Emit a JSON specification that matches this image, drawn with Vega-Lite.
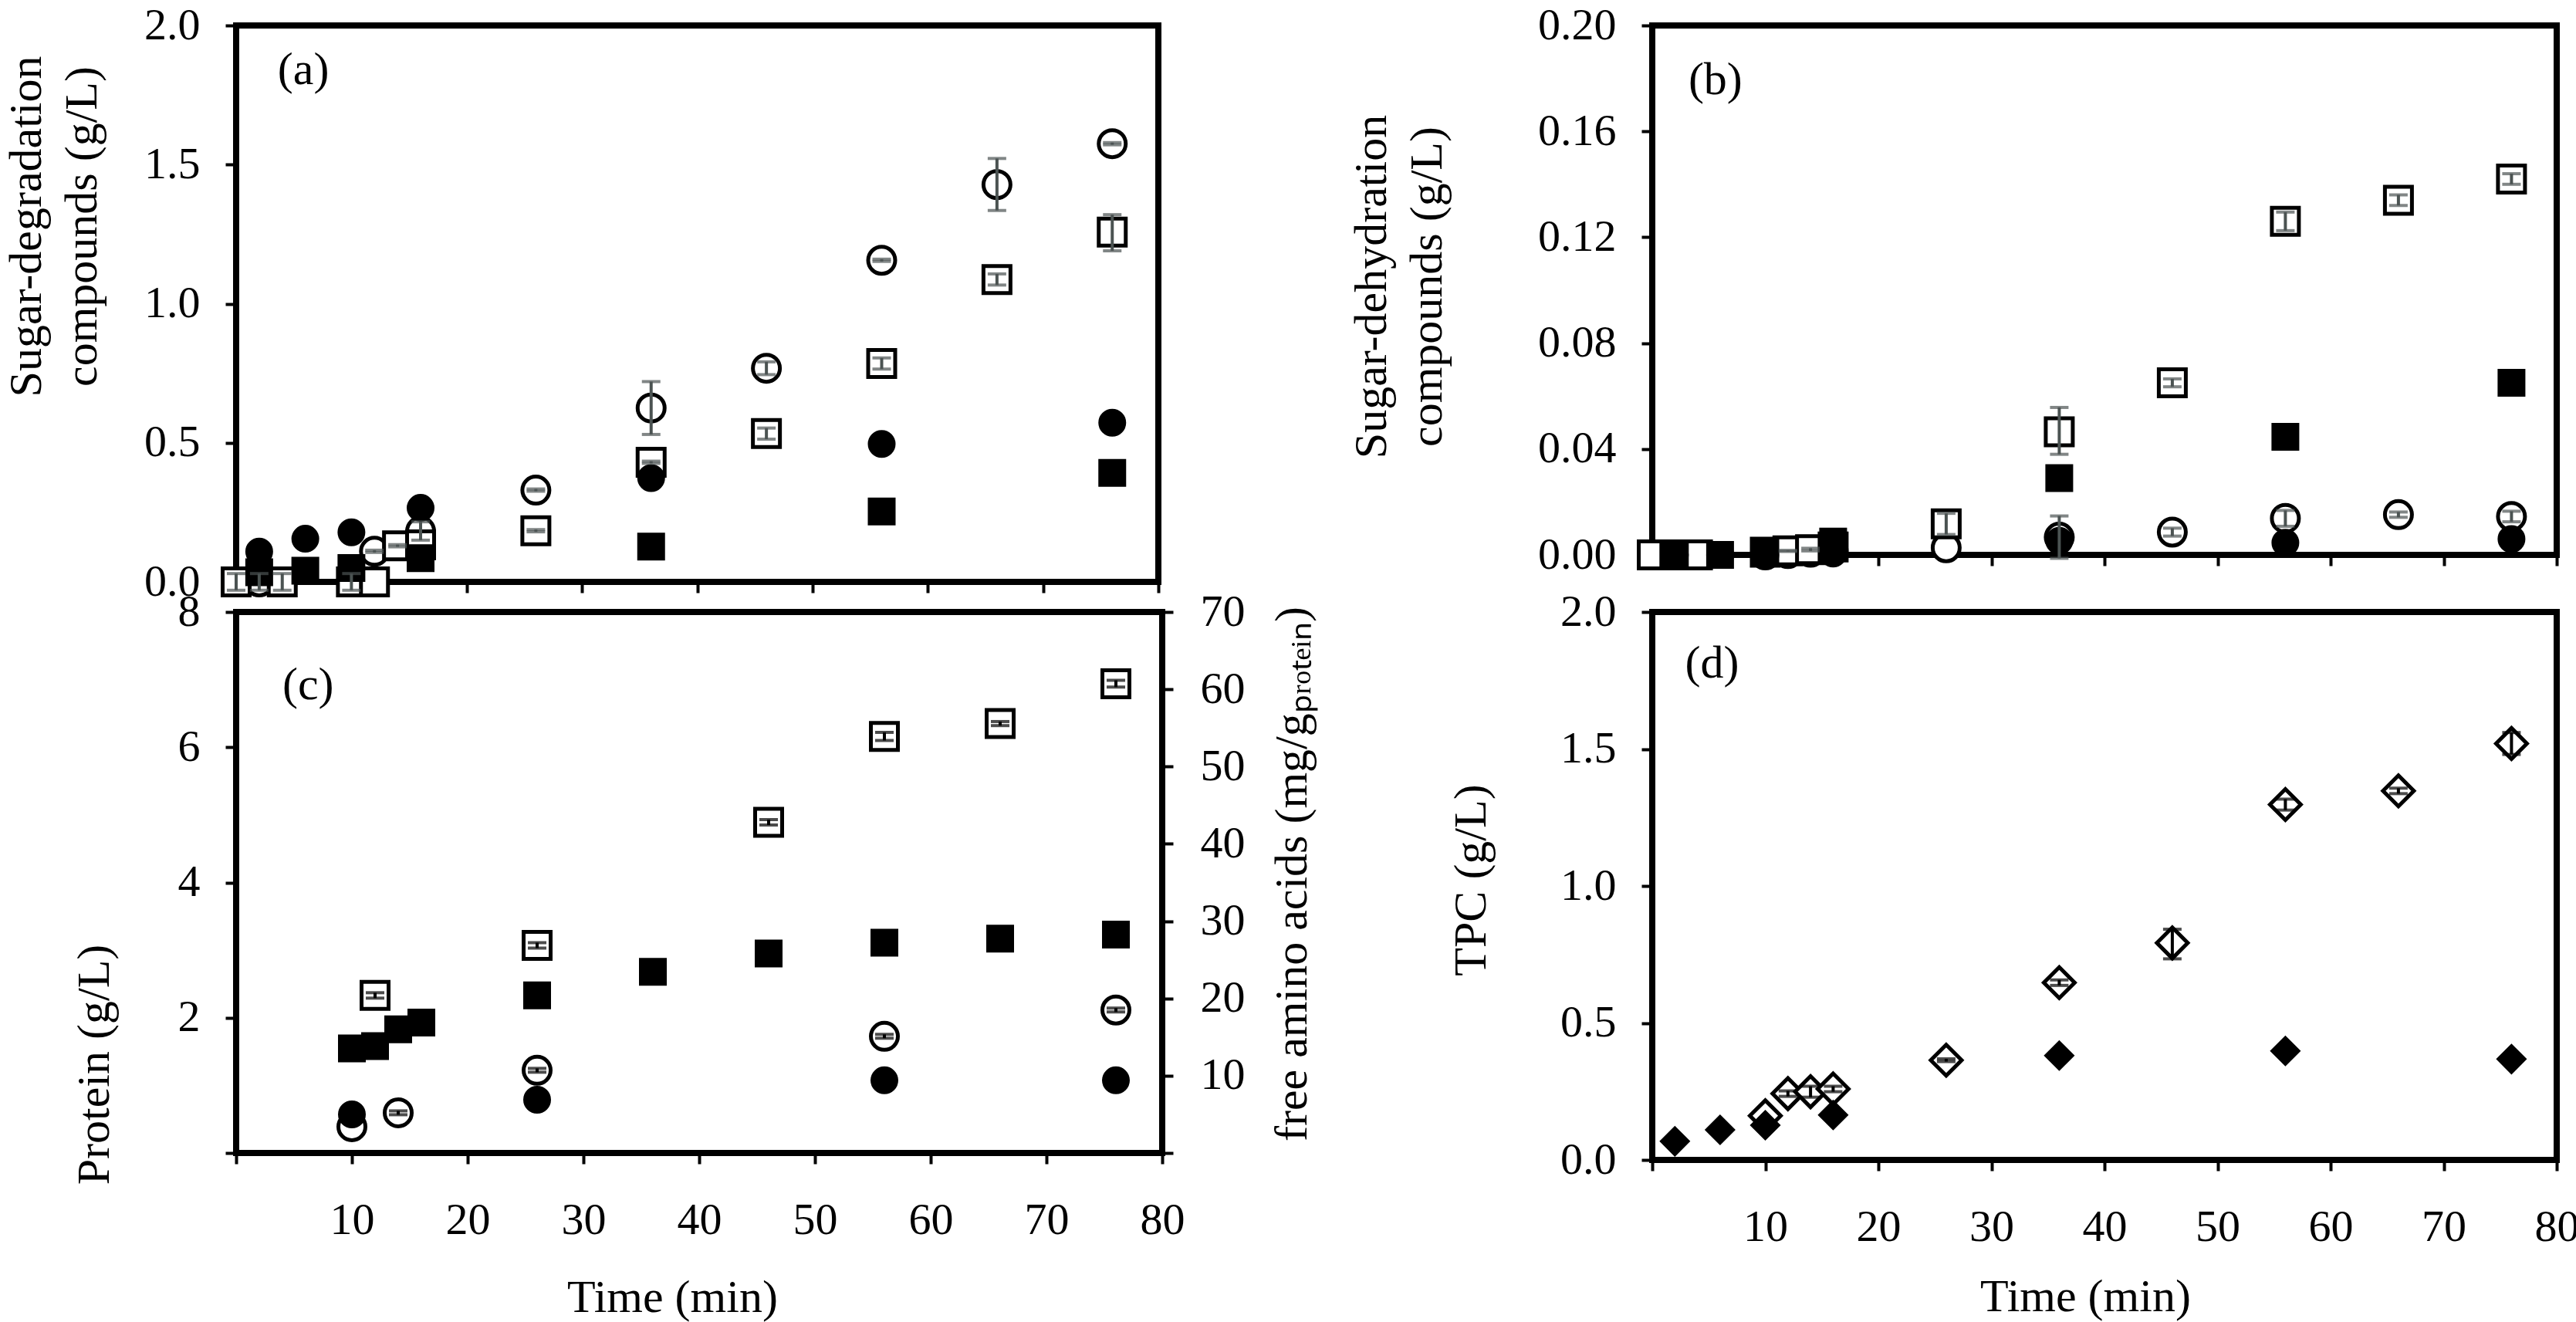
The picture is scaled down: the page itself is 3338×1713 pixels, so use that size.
{
"$schema":"https://vega.github.io/schema/vega-lite/v6.json",
"background":"white",
"padding":{"left":0,"top":0,"right":0,"bottom":0},
"bounds":"flush",
"columns":2,
"spacing":{"row":39,"column":635},
"resolve":{"scale":{"x":"independent","y":"independent","shape":"independent"},"axis":{"x":"independent","y":"independent"}},
"config":{"font":"Liberation Serif","view":{"stroke":"black","strokeWidth":8},
"axis":{"domain":false,"grid":false,"ticks":true,"tickColor":"black","tickWidth":4,"tickSize":14,"labelFont":"Liberation Serif","labelFontSize":58,"labelColor":"black","titleFont":"Liberation Serif","titleFontSize":60,"titleFontWeight":"normal","titleColor":"black","labelFlush":false,"labelOverlap":false,"labelBound":false},
"axisY":{"labelPadding":33},"axisX":{"labelPadding":44,"titlePadding":40}},
"datasets":{
"pts":[
{"panel":"a","marker":"oc","t":0,"v":0,"lo":-0.03,"hi":0.03},
{"panel":"a","marker":"oc","t":2,"v":0,"lo":-0.03,"hi":0.03},
{"panel":"a","marker":"oc","t":4,"v":0,"lo":-0.03,"hi":0.03},
{"panel":"a","marker":"oc","t":10,"v":0,"lo":-0.03,"hi":0.03},
{"panel":"a","marker":"oc","t":12,"v":0.11,"lo":0.106,"hi":0.114},
{"panel":"a","marker":"oc","t":16,"v":0.183,"lo":0.15,"hi":0.216},
{"panel":"a","marker":"oc","t":26,"v":0.33,"lo":0.326,"hi":0.334},
{"panel":"a","marker":"oc","t":36,"v":0.625,"lo":0.53,"hi":0.72},
{"panel":"a","marker":"oc","t":46,"v":0.768,"lo":0.745,"hi":0.791},
{"panel":"a","marker":"oc","t":56,"v":1.156,"lo":1.152,"hi":1.16},
{"panel":"a","marker":"oc","t":66,"v":1.428,"lo":1.335,"hi":1.522},
{"panel":"a","marker":"oc","t":76,"v":1.575,"lo":1.571,"hi":1.579},
{"panel":"a","marker":"os","t":0,"v":0},
{"panel":"a","marker":"os","t":4,"v":0},
{"panel":"a","marker":"os","t":10,"v":0},
{"panel":"a","marker":"os","t":12,"v":0},
{"panel":"a","marker":"os","t":14,"v":0.13,"lo":0.126,"hi":0.134},
{"panel":"a","marker":"os","t":16,"v":0.133},
{"panel":"a","marker":"os","t":26,"v":0.184,"lo":0.18,"hi":0.188},
{"panel":"a","marker":"os","t":36,"v":0.43,"lo":0.426,"hi":0.434},
{"panel":"a","marker":"os","t":46,"v":0.533,"lo":0.513,"hi":0.553},
{"panel":"a","marker":"os","t":56,"v":0.785,"lo":0.765,"hi":0.805},
{"panel":"a","marker":"os","t":66,"v":1.087,"lo":1.067,"hi":1.107},
{"panel":"a","marker":"os","t":76,"v":1.257,"lo":1.19,"hi":1.32},
{"panel":"a","marker":"fc","t":2,"v":0.109},
{"panel":"a","marker":"fc","t":6,"v":0.155},
{"panel":"a","marker":"fc","t":10,"v":0.178},
{"panel":"a","marker":"fc","t":16,"v":0.266},
{"panel":"a","marker":"fc","t":36,"v":0.373},
{"panel":"a","marker":"fc","t":56,"v":0.496},
{"panel":"a","marker":"fc","t":76,"v":0.572},
{"panel":"a","marker":"fs","t":2,"v":0.035},
{"panel":"a","marker":"fs","t":6,"v":0.04},
{"panel":"a","marker":"fs","t":10,"v":0.05},
{"panel":"a","marker":"fs","t":16,"v":0.085},
{"panel":"a","marker":"fs","t":36,"v":0.127},
{"panel":"a","marker":"fs","t":56,"v":0.253},
{"panel":"a","marker":"fs","t":76,"v":0.392},
{"panel":"b","marker":"oc","t":0,"v":0},
{"panel":"b","marker":"oc","t":2,"v":0},
{"panel":"b","marker":"oc","t":4,"v":0},
{"panel":"b","marker":"oc","t":10,"v":0},
{"panel":"b","marker":"oc","t":12,"v":0.0005},
{"panel":"b","marker":"oc","t":14,"v":0.001},
{"panel":"b","marker":"oc","t":16,"v":0.0015},
{"panel":"b","marker":"oc","t":26,"v":0.0027},
{"panel":"b","marker":"oc","t":36,"v":0.0067,"lo":-0.0013,"hi":0.0147},
{"panel":"b","marker":"oc","t":46,"v":0.0086,"lo":0.0071,"hi":0.0101},
{"panel":"b","marker":"oc","t":56,"v":0.0138,"lo":0.0108,"hi":0.0168},
{"panel":"b","marker":"oc","t":66,"v":0.0152,"lo":0.0142,"hi":0.0162},
{"panel":"b","marker":"oc","t":76,"v":0.0145,"lo":0.0125,"hi":0.0165},
{"panel":"b","marker":"os","t":0,"v":0},
{"panel":"b","marker":"os","t":2,"v":0},
{"panel":"b","marker":"os","t":4,"v":0},
{"panel":"b","marker":"os","t":10,"v":0.001},
{"panel":"b","marker":"os","t":12,"v":0.0015,"lo":0.0013,"hi":0.0017},
{"panel":"b","marker":"os","t":14,"v":0.002,"lo":0.0015,"hi":0.0025},
{"panel":"b","marker":"os","t":16,"v":0.003},
{"panel":"b","marker":"os","t":26,"v":0.0117,"lo":0.0077,"hi":0.0157},
{"panel":"b","marker":"os","t":36,"v":0.0465,"lo":0.038,"hi":0.0557},
{"panel":"b","marker":"os","t":46,"v":0.065,"lo":0.0635,"hi":0.0665},
{"panel":"b","marker":"os","t":56,"v":0.126,"lo":0.1225,"hi":0.1295},
{"panel":"b","marker":"os","t":66,"v":0.134,"lo":0.132,"hi":0.136},
{"panel":"b","marker":"os","t":76,"v":0.142,"lo":0.14,"hi":0.144},
{"panel":"b","marker":"fc","t":2,"v":0},
{"panel":"b","marker":"fc","t":6,"v":0},
{"panel":"b","marker":"fc","t":10,"v":0},
{"panel":"b","marker":"fc","t":16,"v":0.0005},
{"panel":"b","marker":"fc","t":36,"v":0.0053},
{"panel":"b","marker":"fc","t":56,"v":0.0046},
{"panel":"b","marker":"fc","t":76,"v":0.006},
{"panel":"b","marker":"fs","t":2,"v":0},
{"panel":"b","marker":"fs","t":6,"v":0},
{"panel":"b","marker":"fs","t":10,"v":0.001},
{"panel":"b","marker":"fs","t":16,"v":0.005},
{"panel":"b","marker":"fs","t":36,"v":0.029},
{"panel":"b","marker":"fs","t":56,"v":0.0446},
{"panel":"b","marker":"fs","t":76,"v":0.065},
{"panel":"c","marker":"os","t":12,"v":2.33,"lo":2.29,"hi":2.37},
{"panel":"c","marker":"os","t":26,"v":3.07,"lo":3.03,"hi":3.11},
{"panel":"c","marker":"os","t":46,"v":4.89,"lo":4.85,"hi":4.93},
{"panel":"c","marker":"os","t":56,"v":6.16,"lo":6.1,"hi":6.22},
{"panel":"c","marker":"os","t":66,"v":6.35,"lo":6.32,"hi":6.38},
{"panel":"c","marker":"os","t":76,"v":6.94,"lo":6.89,"hi":6.99},
{"panel":"c","marker":"fs","t":10,"v":1.545},
{"panel":"c","marker":"fs","t":12,"v":1.58},
{"panel":"c","marker":"fs","t":14,"v":1.83},
{"panel":"c","marker":"fs","t":16,"v":1.93},
{"panel":"c","marker":"fs","t":26,"v":2.33},
{"panel":"c","marker":"fs","t":36,"v":2.68},
{"panel":"c","marker":"fs","t":46,"v":2.95},
{"panel":"c","marker":"fs","t":56,"v":3.11},
{"panel":"c","marker":"fs","t":66,"v":3.17},
{"panel":"c","marker":"fs","t":76,"v":3.23},
{"panel":"c","marker":"oc","t":10,"v":3.4},
{"panel":"c","marker":"oc","t":14,"v":5.2,"lo":4.95,"hi":5.45},
{"panel":"c","marker":"oc","t":26,"v":10.7,"lo":10.45,"hi":10.95},
{"panel":"c","marker":"oc","t":56,"v":15.1,"lo":14.85,"hi":15.35},
{"panel":"c","marker":"oc","t":76,"v":18.5,"lo":18.25,"hi":18.75},
{"panel":"c","marker":"fc","t":10,"v":5.0},
{"panel":"c","marker":"fc","t":26,"v":6.9},
{"panel":"c","marker":"fc","t":56,"v":9.4},
{"panel":"c","marker":"fc","t":76,"v":9.4},
{"panel":"d","marker":"od","t":10,"v":0.161},
{"panel":"d","marker":"od","t":12,"v":0.242,"lo":0.232,"hi":0.252},
{"panel":"d","marker":"od","t":14,"v":0.249,"lo":0.229,"hi":0.269},
{"panel":"d","marker":"od","t":16,"v":0.259,"lo":0.249,"hi":0.269},
{"panel":"d","marker":"od","t":26,"v":0.364,"lo":0.359,"hi":0.369},
{"panel":"d","marker":"od","t":36,"v":0.647,"lo":0.637,"hi":0.657},
{"panel":"d","marker":"od","t":46,"v":0.792,"lo":0.734,"hi":0.842},
{"panel":"d","marker":"od","t":56,"v":1.297,"lo":1.277,"hi":1.317},
{"panel":"d","marker":"od","t":66,"v":1.347,"lo":1.337,"hi":1.357},
{"panel":"d","marker":"od","t":76,"v":1.52,"lo":1.48,"hi":1.56},
{"panel":"d","marker":"fd","t":2,"v":0.068},
{"panel":"d","marker":"fd","t":6,"v":0.11},
{"panel":"d","marker":"fd","t":10,"v":0.127},
{"panel":"d","marker":"fd","t":16,"v":0.164},
{"panel":"d","marker":"fd","t":36,"v":0.381},
{"panel":"d","marker":"fd","t":56,"v":0.398},
{"panel":"d","marker":"fd","t":76,"v":0.368}
],
"lab":[
{"panel":"a","label":"(a)","t":3.6,"v":1.79},
{"panel":"b","label":"(b)","t":3.2,"v":0.174},
{"panel":"c","label":"(c)","t":4.0,"v":6.71},
{"panel":"d","label":"(d)","t":2.9,"v":1.76}
]
},
"concat":[
{
"width":1195,"height":721,
"layer":[
{"data":{"name":"pts"},"transform":[{"filter":"datum.panel=='a' && (datum.marker=='oc' || datum.marker=='os')"}],
"mark":{"type":"point","filled":true,"fill":"white","stroke":"black","strokeWidth":5,"size":1225,"opacity":1},
"encoding":{
"x":{"field":"t","type":"quantitative","scale":{"domain":[0,80],"nice":false,"zero":false},"axis":{"values":[0,10,20,30,40,50,60,70,80],"labels":false,"title":null}},
"y":{"field":"v","type":"quantitative","scale":{"domain":[0,2],"nice":false,"zero":false},"axis":{"values":[0,0.5,1,1.5,2],"format":".1f","title":["Sugar-degradation","compounds (g/L)"],"titlePadding":49,"titleY":260,"titleLineHeight":72}},
"shape":{"field":"marker","type":"nominal","scale":{"domain":["oc","fc","os","fs","od","fd"],"range":["circle","circle","square","square","diamond","diamond"]},"legend":null}}},
{"data":{"name":"pts"},"transform":[{"filter":"datum.panel=='a' && (datum.marker=='fc' || datum.marker=='fs')"}],
"mark":{"type":"point","filled":true,"fill":"black","stroke":"black","strokeWidth":5,"size":961,"opacity":1},
"encoding":{
"x":{"field":"t","type":"quantitative","scale":{"domain":[0,80],"nice":false,"zero":false}},
"y":{"field":"v","type":"quantitative","scale":{"domain":[0,2],"nice":false,"zero":false}},
"shape":{"field":"marker","type":"nominal","scale":{"domain":["oc","fc","os","fs","od","fd"],"range":["circle","circle","square","square","diamond","diamond"]},"legend":null}}},
{"data":{"name":"pts"},"transform":[{"filter":"datum.panel=='a' && datum.lo != null"}],
"mark":{"type":"rule","color":"#4b5352","strokeWidth":4},
"encoding":{"x":{"field":"t","type":"quantitative","scale":{"domain":[0,80],"nice":false,"zero":false}},"y":{"field":"lo","type":"quantitative","scale":{"domain":[0,2],"nice":false,"zero":false}},"y2":{"field":"hi"}}},
{"data":{"name":"pts"},"transform":[{"filter":"datum.panel=='a' && datum.lo != null"}],
"mark":{"type":"tick","orient":"horizontal","color":"#4b5352","thickness":4,"size":24},
"encoding":{"x":{"field":"t","type":"quantitative","scale":{"domain":[0,80],"nice":false,"zero":false}},"y":{"field":"lo","type":"quantitative","scale":{"domain":[0,2],"nice":false,"zero":false}}}},
{"data":{"name":"pts"},"transform":[{"filter":"datum.panel=='a' && datum.lo != null"}],
"mark":{"type":"tick","orient":"horizontal","color":"#4b5352","thickness":4,"size":24},
"encoding":{"x":{"field":"t","type":"quantitative","scale":{"domain":[0,80],"nice":false,"zero":false}},"y":{"field":"hi","type":"quantitative","scale":{"domain":[0,2],"nice":false,"zero":false}}}},
{"data":{"name":"lab"},"transform":[{"filter":"datum.panel=='a'"}],
"mark":{"type":"text","align":"left","baseline":"alphabetic","font":"Liberation Serif","fontSize":60,"color":"black"},
"encoding":{"x":{"field":"t","type":"quantitative","scale":{"domain":[0,80],"nice":false,"zero":false}},"y":{"field":"v","type":"quantitative","scale":{"domain":[0,2],"nice":false,"zero":false}},"text":{"field":"label"}}}
]
},
{
"width":1172,"height":686,
"layer":[
{"data":{"name":"pts"},"transform":[{"filter":"datum.panel=='b' && (datum.marker=='oc' || datum.marker=='os')"}],
"mark":{"type":"point","filled":true,"fill":"white","stroke":"black","strokeWidth":5,"size":1225,"opacity":1},
"encoding":{
"x":{"field":"t","type":"quantitative","scale":{"domain":[0,80],"nice":false,"zero":false},"axis":{"values":[0,10,20,30,40,50,60,70,80],"labels":false,"title":null}},
"y":{"field":"v","type":"quantitative","scale":{"domain":[0,0.2],"nice":false,"zero":false},"axis":{"values":[0,0.04,0.08,0.12,0.16,0.2],"format":".2f","title":["Sugar-dehydration","compounds (g/L)"],"titlePadding":112,"titleY":338,"titleLineHeight":72}},
"shape":{"field":"marker","type":"nominal","scale":{"domain":["oc","fc","os","fs","od","fd"],"range":["circle","circle","square","square","diamond","diamond"]},"legend":null}}},
{"data":{"name":"pts"},"transform":[{"filter":"datum.panel=='b' && (datum.marker=='fc' || datum.marker=='fs')"}],
"mark":{"type":"point","filled":true,"fill":"black","stroke":"black","strokeWidth":5,"size":961,"opacity":1},
"encoding":{
"x":{"field":"t","type":"quantitative","scale":{"domain":[0,80],"nice":false,"zero":false}},
"y":{"field":"v","type":"quantitative","scale":{"domain":[0,0.2],"nice":false,"zero":false}},
"shape":{"field":"marker","type":"nominal","scale":{"domain":["oc","fc","os","fs","od","fd"],"range":["circle","circle","square","square","diamond","diamond"]},"legend":null}}},
{"data":{"name":"pts"},"transform":[{"filter":"datum.panel=='b' && datum.lo != null"}],
"mark":{"type":"rule","color":"#4b5352","strokeWidth":4},
"encoding":{"x":{"field":"t","type":"quantitative","scale":{"domain":[0,80],"nice":false,"zero":false}},"y":{"field":"lo","type":"quantitative","scale":{"domain":[0,0.2],"nice":false,"zero":false}},"y2":{"field":"hi"}}},
{"data":{"name":"pts"},"transform":[{"filter":"datum.panel=='b' && datum.lo != null"}],
"mark":{"type":"tick","orient":"horizontal","color":"#4b5352","thickness":4,"size":24},
"encoding":{"x":{"field":"t","type":"quantitative","scale":{"domain":[0,80],"nice":false,"zero":false}},"y":{"field":"lo","type":"quantitative","scale":{"domain":[0,0.2],"nice":false,"zero":false}}}},
{"data":{"name":"pts"},"transform":[{"filter":"datum.panel=='b' && datum.lo != null"}],
"mark":{"type":"tick","orient":"horizontal","color":"#4b5352","thickness":4,"size":24},
"encoding":{"x":{"field":"t","type":"quantitative","scale":{"domain":[0,80],"nice":false,"zero":false}},"y":{"field":"hi","type":"quantitative","scale":{"domain":[0,0.2],"nice":false,"zero":false}}}},
{"data":{"name":"lab"},"transform":[{"filter":"datum.panel=='b'"}],
"mark":{"type":"text","align":"left","baseline":"alphabetic","font":"Liberation Serif","fontSize":60,"color":"black"},
"encoding":{"x":{"field":"t","type":"quantitative","scale":{"domain":[0,80],"nice":false,"zero":false}},"y":{"field":"v","type":"quantitative","scale":{"domain":[0,0.2],"nice":false,"zero":false}},"text":{"field":"label"}}}
]
},
{
"width":1200,"height":701,
"resolve":{"scale":{"y":"independent"},"axis":{"y":"independent"}},
"layer":[
{"layer":[
{"data":{"name":"pts"},"transform":[{"filter":"datum.panel=='c' && datum.marker=='os'"}],
"mark":{"type":"point","filled":true,"fill":"white","stroke":"black","strokeWidth":5,"size":1225,"opacity":1},
"encoding":{
"x":{"field":"t","type":"quantitative","scale":{"domain":[0,80],"nice":false,"zero":false},"axis":{"values":[0,10,20,30,40,50,60,70,80],"format":"d","labelExpr":"datum.value == 0 ? '' : datum.label","title":"Time (min)","titleX":565,"titlePadding":42}},
"y":{"field":"v","type":"quantitative","scale":{"domain":[0,8],"nice":false,"zero":false},"axis":{"values":[0,2,4,6,8],"format":"d","labelExpr":"datum.value == 0 ? '' : datum.label","title":"Protein (g/L)","titlePadding":77,"titleY":586}},
"shape":{"field":"marker","type":"nominal","scale":{"domain":["oc","fc","os","fs","od","fd"],"range":["circle","circle","square","square","diamond","diamond"]},"legend":null}}},
{"data":{"name":"pts"},"transform":[{"filter":"datum.panel=='c' && datum.marker=='fs'"}],
"mark":{"type":"point","filled":true,"fill":"black","stroke":"black","strokeWidth":5,"size":961,"opacity":1},
"encoding":{
"x":{"field":"t","type":"quantitative","scale":{"domain":[0,80],"nice":false,"zero":false}},
"y":{"field":"v","type":"quantitative","scale":{"domain":[0,8],"nice":false,"zero":false}},
"shape":{"field":"marker","type":"nominal","scale":{"domain":["oc","fc","os","fs","od","fd"],"range":["circle","circle","square","square","diamond","diamond"]},"legend":null}}},
{"data":{"name":"pts"},"transform":[{"filter":"datum.panel=='c' && datum.marker=='os' && datum.lo != null"}],
"mark":{"type":"rule","color":"black","strokeWidth":4},
"encoding":{"x":{"field":"t","type":"quantitative","scale":{"domain":[0,80],"nice":false,"zero":false}},"y":{"field":"lo","type":"quantitative","scale":{"domain":[0,8],"nice":false,"zero":false}},"y2":{"field":"hi"}}},
{"data":{"name":"pts"},"transform":[{"filter":"datum.panel=='c' && datum.marker=='os' && datum.lo != null"}],
"mark":{"type":"tick","orient":"horizontal","color":"black","thickness":4,"size":24},
"encoding":{"x":{"field":"t","type":"quantitative","scale":{"domain":[0,80],"nice":false,"zero":false}},"y":{"field":"lo","type":"quantitative","scale":{"domain":[0,8],"nice":false,"zero":false}}}},
{"data":{"name":"pts"},"transform":[{"filter":"datum.panel=='c' && datum.marker=='os' && datum.lo != null"}],
"mark":{"type":"tick","orient":"horizontal","color":"black","thickness":4,"size":24},
"encoding":{"x":{"field":"t","type":"quantitative","scale":{"domain":[0,80],"nice":false,"zero":false}},"y":{"field":"hi","type":"quantitative","scale":{"domain":[0,8],"nice":false,"zero":false}}}},
{"data":{"name":"lab"},"transform":[{"filter":"datum.panel=='c'"}],
"mark":{"type":"text","align":"left","baseline":"alphabetic","font":"Liberation Serif","fontSize":60,"color":"black"},
"encoding":{"x":{"field":"t","type":"quantitative","scale":{"domain":[0,80],"nice":false,"zero":false}},"y":{"field":"v","type":"quantitative","scale":{"domain":[0,8],"nice":false,"zero":false}},"text":{"field":"label"}}}
]},
{"layer":[
{"data":{"name":"pts"},"transform":[{"filter":"datum.panel=='c' && datum.marker=='oc'"}],
"mark":{"type":"point","filled":true,"fill":"white","stroke":"black","strokeWidth":5,"size":1225,"opacity":1},
"encoding":{
"x":{"field":"t","type":"quantitative","scale":{"domain":[0,80],"nice":false,"zero":false}},
"y":{"field":"v","type":"quantitative","scale":{"domain":[0,70],"nice":false,"zero":false},"axis":{"orient":"right","values":[0,10,20,30,40,50,60,70],"format":"d","labelExpr":"datum.value == 0 ? '' : datum.label","labelPadding":35,"title":"free amino acids (mg/gₚᵣₒₜₑᵢₙ)","titleAngle":270,"titleBaseline":"top","titlePadding":32,"titleY":339}},
"shape":{"field":"marker","type":"nominal","scale":{"domain":["oc","fc","os","fs","od","fd"],"range":["circle","circle","square","square","diamond","diamond"]},"legend":null}}},
{"data":{"name":"pts"},"transform":[{"filter":"datum.panel=='c' && datum.marker=='fc'"}],
"mark":{"type":"point","filled":true,"fill":"black","stroke":"black","strokeWidth":5,"size":961,"opacity":1},
"encoding":{
"x":{"field":"t","type":"quantitative","scale":{"domain":[0,80],"nice":false,"zero":false}},
"y":{"field":"v","type":"quantitative","scale":{"domain":[0,70],"nice":false,"zero":false}},
"shape":{"field":"marker","type":"nominal","scale":{"domain":["oc","fc","os","fs","od","fd"],"range":["circle","circle","square","square","diamond","diamond"]},"legend":null}}},
{"data":{"name":"pts"},"transform":[{"filter":"datum.panel=='c' && datum.marker=='oc' && datum.lo != null"}],
"mark":{"type":"rule","color":"black","strokeWidth":4},
"encoding":{"x":{"field":"t","type":"quantitative","scale":{"domain":[0,80],"nice":false,"zero":false}},"y":{"field":"lo","type":"quantitative","scale":{"domain":[0,70],"nice":false,"zero":false}},"y2":{"field":"hi"}}},
{"data":{"name":"pts"},"transform":[{"filter":"datum.panel=='c' && datum.marker=='oc' && datum.lo != null"}],
"mark":{"type":"tick","orient":"horizontal","color":"black","thickness":4,"size":24},
"encoding":{"x":{"field":"t","type":"quantitative","scale":{"domain":[0,80],"nice":false,"zero":false}},"y":{"field":"lo","type":"quantitative","scale":{"domain":[0,70],"nice":false,"zero":false}}}},
{"data":{"name":"pts"},"transform":[{"filter":"datum.panel=='c' && datum.marker=='oc' && datum.lo != null"}],
"mark":{"type":"tick","orient":"horizontal","color":"black","thickness":4,"size":24},
"encoding":{"x":{"field":"t","type":"quantitative","scale":{"domain":[0,80],"nice":false,"zero":false}},"y":{"field":"hi","type":"quantitative","scale":{"domain":[0,70],"nice":false,"zero":false}}}}
]}
]
},
{
"width":1172,"height":710,
"layer":[
{"data":{"name":"pts"},"transform":[{"filter":"datum.panel=='d' && datum.marker=='od'"}],
"mark":{"type":"point","filled":true,"fill":"white","stroke":"black","strokeWidth":5,"size":1600,"opacity":1},
"encoding":{
"x":{"field":"t","type":"quantitative","scale":{"domain":[0,80],"nice":false,"zero":false},"axis":{"values":[0,10,20,30,40,50,60,70,80],"format":"d","labelExpr":"datum.value == 0 ? '' : datum.label","title":"Time (min)","titleX":561,"titlePadding":32}},
"y":{"field":"v","type":"quantitative","scale":{"domain":[0,2],"nice":false,"zero":false},"axis":{"values":[0,0.5,1,1.5,2],"format":".1f","title":"TPC (g/L)","titlePadding":84,"titleY":347}},
"shape":{"field":"marker","type":"nominal","scale":{"domain":["oc","fc","os","fs","od","fd"],"range":["circle","circle","square","square","diamond","diamond"]},"legend":null}}},
{"data":{"name":"pts"},"transform":[{"filter":"datum.panel=='d' && datum.marker=='fd'"}],
"mark":{"type":"point","filled":true,"fill":"black","stroke":"black","strokeWidth":5,"size":1089,"opacity":1},
"encoding":{
"x":{"field":"t","type":"quantitative","scale":{"domain":[0,80],"nice":false,"zero":false}},
"y":{"field":"v","type":"quantitative","scale":{"domain":[0,2],"nice":false,"zero":false}},
"shape":{"field":"marker","type":"nominal","scale":{"domain":["oc","fc","os","fs","od","fd"],"range":["circle","circle","square","square","diamond","diamond"]},"legend":null}}},
{"data":{"name":"pts"},"transform":[{"filter":"datum.panel=='d' && datum.lo != null"}],
"mark":{"type":"rule","color":"black","strokeWidth":4},
"encoding":{"x":{"field":"t","type":"quantitative","scale":{"domain":[0,80],"nice":false,"zero":false}},"y":{"field":"lo","type":"quantitative","scale":{"domain":[0,2],"nice":false,"zero":false}},"y2":{"field":"hi"}}},
{"data":{"name":"pts"},"transform":[{"filter":"datum.panel=='d' && datum.lo != null"}],
"mark":{"type":"tick","orient":"horizontal","color":"black","thickness":4,"size":24},
"encoding":{"x":{"field":"t","type":"quantitative","scale":{"domain":[0,80],"nice":false,"zero":false}},"y":{"field":"lo","type":"quantitative","scale":{"domain":[0,2],"nice":false,"zero":false}}}},
{"data":{"name":"pts"},"transform":[{"filter":"datum.panel=='d' && datum.lo != null"}],
"mark":{"type":"tick","orient":"horizontal","color":"black","thickness":4,"size":24},
"encoding":{"x":{"field":"t","type":"quantitative","scale":{"domain":[0,80],"nice":false,"zero":false}},"y":{"field":"hi","type":"quantitative","scale":{"domain":[0,2],"nice":false,"zero":false}}}},
{"data":{"name":"lab"},"transform":[{"filter":"datum.panel=='d'"}],
"mark":{"type":"text","align":"left","baseline":"alphabetic","font":"Liberation Serif","fontSize":60,"color":"black"},
"encoding":{"x":{"field":"t","type":"quantitative","scale":{"domain":[0,80],"nice":false,"zero":false}},"y":{"field":"v","type":"quantitative","scale":{"domain":[0,2],"nice":false,"zero":false}},"text":{"field":"label"}}}
]
}
]
}
